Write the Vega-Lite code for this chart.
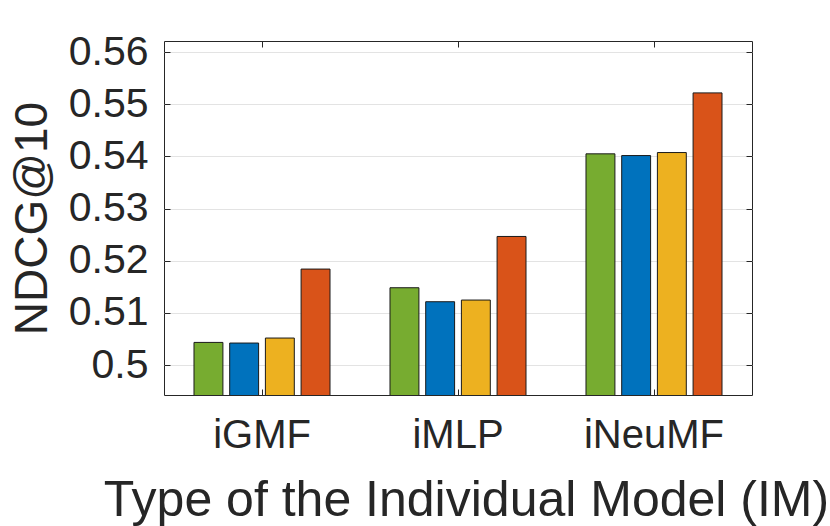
{
  "$schema": "https://vega.github.io/schema/vega-lite/v6.json",
  "width": 588,
  "height": 354,
  "autosize": {"type": "none"},
  "padding": {"left": 164, "top": 41, "right": 78, "bottom": 131},
  "background": "white",
  "config": {
    "font": "Liberation Sans",
    "view": {"stroke": "#262626", "strokeWidth": 1},
    "axis": {"labelColor": "#262626", "titleColor": "#262626", "tickColor": "#262626", "domain": false, "labelFont": "Liberation Sans", "titleFont": "Liberation Sans"}
  },
  "data": {
    "values": [
      {"model": "iGMF", "series": "S1", "value": 0.50433},
      {"model": "iGMF", "series": "S2", "value": 0.50421},
      {"model": "iGMF", "series": "S3", "value": 0.50517},
      {"model": "iGMF", "series": "S4", "value": 0.51839},
      {"model": "iMLP", "series": "S1", "value": 0.51481},
      {"model": "iMLP", "series": "S2", "value": 0.51213},
      {"model": "iMLP", "series": "S3", "value": 0.51245},
      {"model": "iMLP", "series": "S4", "value": 0.52464},
      {"model": "iNeuMF", "series": "S1", "value": 0.54048},
      {"model": "iNeuMF", "series": "S2", "value": 0.54015},
      {"model": "iNeuMF", "series": "S3", "value": 0.54073},
      {"model": "iNeuMF", "series": "S4", "value": 0.55216}
    ]
  },
  "layer": [
    {
      "mark": {"type": "bar", "stroke": "#1a1a1a", "strokeWidth": 1, "clip": true},
      "encoding": {
        "x": {
          "field": "model", "type": "nominal", "sort": ["iGMF", "iMLP", "iNeuMF"],
          "scale": {"paddingInner": 0, "paddingOuter": 0},
          "axis": {
            "orient": "bottom", "labelAngle": 0, "labelFontSize": 40, "labelPadding": 26,
            "ticks": true, "tickSize": -6, "grid": false,
            "title": "Type of the Individual Model (IM)", "titleFontSize": 50, "titleFontWeight": "normal",
            "titleX": 302, "titleY": 120, "titleBaseline": "alphabetic", "titleAlign": "center"
          }
        },
        "xOffset": {
          "field": "series", "type": "nominal", "sort": ["S1", "S2", "S3", "S4"],
          "scale": {"paddingInner": 0.19, "paddingOuter": 0.84}
        },
        "y": {
          "field": "value", "type": "quantitative",
          "scale": {"domain": [0.49425, 0.56211], "zero": false, "nice": false},
          "axis": {
            "values": [0.5, 0.51, 0.52, 0.53, 0.54, 0.55, 0.56], "format": ".2~f",
            "labelFontSize": 41, "labelPadding": 22, "tickSize": -6,
            "grid": true, "gridColor": "#e3e3e3", "gridWidth": 1,
            "title": "NDCG@10", "titleFontSize": 46, "titleFontWeight": "normal",
            "titleAngle": -90, "titleX": -132, "titleY": 177, "titleAlign": "center", "titleBaseline": "middle"
          }
        },
        "color": {
          "field": "series", "type": "nominal",
          "scale": {"domain": ["S1", "S2", "S3", "S4"], "range": ["#77AC30", "#0072BD", "#EDB120", "#D95319"]},
          "legend": null
        }
      }
    },
    {
      "mark": {"type": "bar", "opacity": 0},
      "encoding": {
        "x": {
          "field": "model", "type": "nominal", "sort": ["iGMF", "iMLP", "iNeuMF"],
          "axis": {"orient": "top", "labels": false, "tickSize": -6, "title": null, "grid": false}
        },
        "xOffset": {"field": "series", "type": "nominal", "sort": ["S1", "S2", "S3", "S4"]},
        "y": {
          "field": "value", "type": "quantitative",
          "axis": {"orient": "right", "labels": false, "tickSize": -6, "title": null, "grid": false, "values": [0.5, 0.51, 0.52, 0.53, 0.54, 0.55, 0.56]}
        }
      }
    }
  ],
  "resolve": {"axis": {"x": "independent", "y": "independent"}}
}
